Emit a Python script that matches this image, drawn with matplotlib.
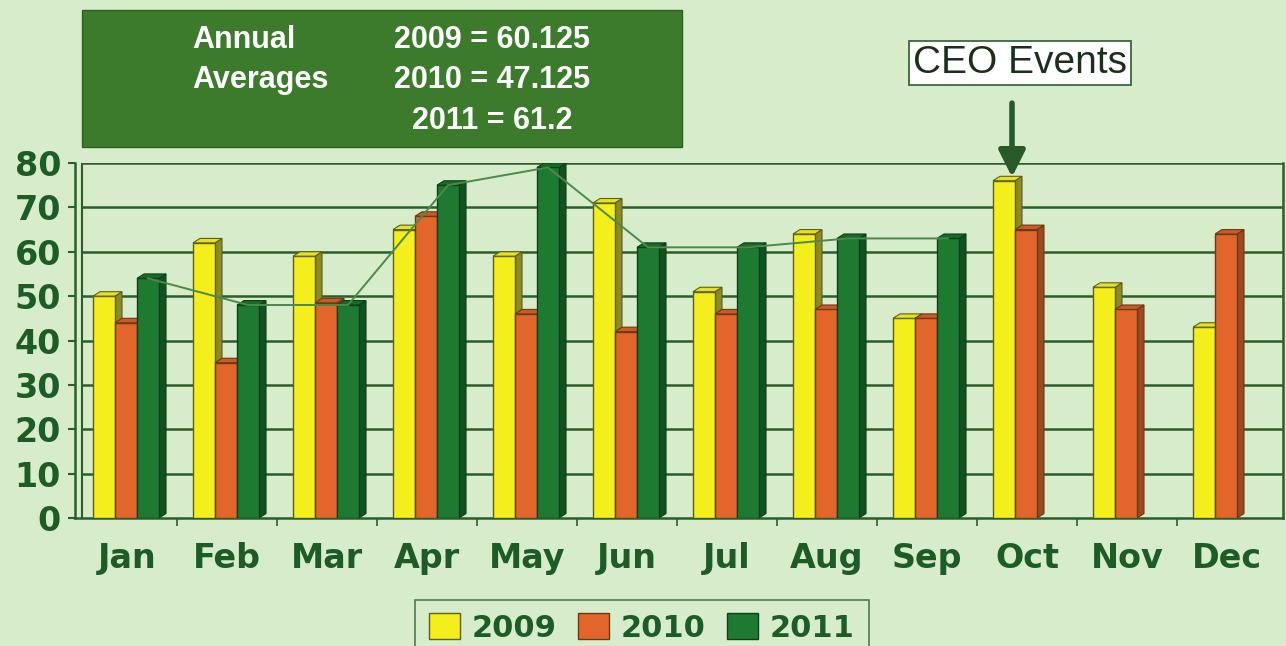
import matplotlib
matplotlib.use('Agg')
import matplotlib.pyplot as plt
from matplotlib.patches import Patch, Rectangle

# chart values
months = ['Jan', 'Feb', 'Mar', 'Apr', 'May', 'Jun', 'Jul', 'Aug', 'Sep', 'Oct', 'Nov', 'Dec']
years = ['2009', '2010', '2011']
y2009 = [50, 62, 59, 65, 59, 71, 51, 64, 45, 76, 52, 43]
y2010 = [44, 35, 48.5, 68, 46, 42, 46, 47, 45, 65, 47, 64]
y2011 = [54, 48, 48, 75, 79, 61, 61, 63, 63]
yticks = [0, 10, 20, 30, 40, 50, 60, 70, 80]
avg_lines = [('Annual', '2009 = 60.125'), ('Averages', '2010 = 47.125'), ('', '2011 = 61.2')]

W, H = 1286, 646
bg = '#d7ecca'
grid_c = '#2c5e2c'
txt_c = '#1d5c27'
box_c = '#3c7b2b'

# front / side / top colours per series
styles = [
    dict(front='#f3ee1c', side='#8e8a2a', top='#e6e02a', edge='#5f6012'),
    dict(front='#e2652b', side='#9c4820', top='#cc5a26', edge='#6a3a12'),
    dict(front='#1d7a30', side='#11521f', top='#176a28', edge='#0f3f18'),
]
left_off = [-0.34, -0.12, 0.10]
bw = 0.22
dx, dy = 0.07, 1.0

fig = plt.figure(figsize=(W / 100, H / 100), dpi=100, facecolor=bg)
ax = fig.add_axes([75 / W, 128 / H, (1283 - 75) / W, 355 / H])
ax.set_facecolor(bg)
ax.set_xlim(-0.52, 11.56)
ax.set_ylim(0, 80)

# gridlines and back wall
ax.hlines(yticks[1:], -0.45, 11.56, color=grid_c, lw=1.8, zorder=1)
ax.vlines(-0.45, 0, 80, color=grid_c, lw=1.5, zorder=1)

series = [y2009, y2010, y2011]
for i in range(len(months)):
    for s, vals in enumerate(series):
        if i >= len(vals):
            continue
        v = vals[i]
        st = styles[s]
        l = i + left_off[s]
        r = l + bw
        z = 3 + s * 3
        ax.bar(l, v, width=bw, align='edge', color=st['front'], edgecolor=st['edge'], lw=1.0, zorder=z + 1)
        ax.fill([r, r + dx, r + dx, r], [0, dy, v + dy, v], color=st['side'], ec=st['edge'], lw=0.8, zorder=z)
        ax.fill([l, r, r + dx, l + dx], [v, v, v + dy, v + dy], color=st['top'], ec=st['edge'], lw=0.8, zorder=z + 2)

# 2011 trend line
ax.plot([i + 0.21 for i in range(len(y2011))], y2011, color='#4a8a4a', lw=1.4, zorder=20)

ax.spines['top'].set_visible(False)
for sp in ['left', 'bottom', 'right']:
    ax.spines[sp].set_color(grid_c)
    ax.spines[sp].set_linewidth(1.8)

ax.set_yticks(yticks)
ax.set_yticklabels([str(t) for t in yticks])
ax.tick_params(axis='y', direction='out', length=5, width=1.5, color=grid_c, pad=5,
               labelsize=24, labelcolor=txt_c)
ax.set_xticks(range(len(months)))
ax.set_xticklabels(months)
ax.tick_params(axis='x', which='major', length=0, pad=17, labelsize=24, labelcolor=txt_c)
ax.set_xticks([i + 0.5 for i in range(len(months) - 1)], minor=True)
ax.tick_params(axis='x', which='minor', direction='out', length=6, width=1.2, color=grid_c)
for lab in ax.get_xticklabels() + ax.get_yticklabels():
    lab.set_fontweight('bold')
    lab.set_family('DejaVu Sans')

# annual averages box
fig.patches.append(Rectangle((82 / W, (H - 147) / H), 600 / W, 137 / H, transform=fig.transFigure,
                             facecolor=box_c, edgecolor='#2e6021', lw=1))
rows_y = [40, 80, 121]
for (lab, val), yy in zip(avg_lines, rows_y):
    if lab:
        fig.text(192 / W, (H - yy) / H, lab, color='white', fontsize=22, fontweight='bold',
                 family='Liberation Sans', va='center', ha='left')
    fig.text(492 / W, (H - yy) / H, val, color='white', fontsize=22, fontweight='bold',
             family='Liberation Sans', va='center', ha='center')

# CEO Events callout
fig.text(1020 / W, (H - 63) / H, 'CEO Events', fontsize=28, color='#1c2f1c', family='Liberation Sans',
         va='center', ha='center',
         bbox=dict(boxstyle='square,pad=0.1', facecolor='white', edgecolor='#2c5e2c', lw=1.2))
ax.annotate('', xy=(8.85, 76.8), xytext=(8.85, 93.5), annotation_clip=False,
            arrowprops=dict(arrowstyle='-|>,head_width=0.4,head_length=0.8', color='#275a27', lw=4,
                            mutation_scale=20, shrinkA=0, shrinkB=0), zorder=30)

# legend
handles = [Patch(facecolor=st['front'], edgecolor=st['edge'], lw=1) for st in styles]
leg = fig.legend(handles, years, loc='center', bbox_to_anchor=(642 / W, (H - 628) / H), ncol=3,
                 frameon=True, fontsize=22, handlelength=1.0, handleheight=0.9, handletextpad=0.4,
                 columnspacing=0.7, borderpad=0.45, fancybox=False)
leg.get_frame().set_facecolor(bg)
leg.get_frame().set_edgecolor(grid_c)
leg.get_frame().set_linewidth(1.2)
for t in leg.get_texts():
    t.set_color(txt_c)
    t.set_fontweight('bold')

fig.savefig('out.png', dpi=100, facecolor=bg)
